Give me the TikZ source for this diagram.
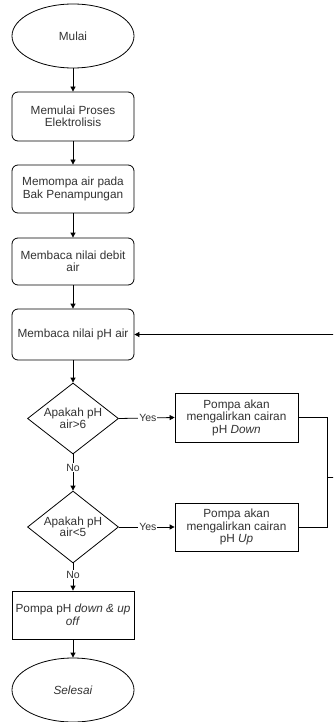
\documentclass[tikz,border=0pt]{standalone}
\usepackage{fontspec}
\setmainfont{Liberation Sans}
\usetikzlibrary{shapes.geometric,arrows.meta}
\definecolor{txt}{HTML}{333333}
\begin{document}
\begin{tikzpicture}[x=1pt,y=-1pt,
 every node/.style={font=\fontsize{11.8}{12.5}\selectfont, text=txt},
 term/.style={draw, ellipse, minimum width=122pt, minimum height=64pt, inner sep=0pt, line width=0.8pt},
 proc/.style={draw, rounded corners=6pt, minimum width=122pt, align=center, inner sep=0pt, line width=0.8pt},
 sqbox/.style={draw, minimum width=123pt, minimum height=48pt, align=center, inner sep=0pt, line width=0.8pt},
 dec/.style={draw, diamond, aspect=1.28, minimum width=91pt, minimum height=71pt, inner sep=0pt, align=center, line width=0.8pt, font=\fontsize{11.8}{11.5}\selectfont},
 lbl/.style={fill=white, inner sep=1pt, font=\fontsize{10.5}{11}\selectfont},
 arr/.style={-{Triangle[length=5pt,width=5pt]}, line width=0.8pt},
 ln/.style={line width=0.8pt}
]
\clip (0,0) rectangle (333,722);
\fill[white] (0,0) rectangle (333,722);

\node[term] (mulai) at (73,36) {Mulai};
\node[proc, minimum height=49pt] (b1) at (73,116.5) {Memulai Proses\\Elektrolisis};
\node[proc, minimum height=48pt] (b2) at (73,189) {Memompa air pada\\Bak Penampungan};
\node[proc, minimum height=47pt] (b3) at (73,261.5) {Membaca nilai debit\\air};
\node[proc, minimum height=51pt] (b4) at (73,334.5) {Membaca nilai pH air};
\node[dec] (d1) at (73,418.5) {Apakah pH\\air>6};
\node[sqbox, minimum height=49pt] (down) at (236.5,417.5) {Pompa akan\\mengalirkan cairan\\pH \textit{Down}};
\node[dec, minimum height=72pt] (d2) at (73,527) {Apakah pH\\air<5};
\node[sqbox] (up) at (236.5,527) {Pompa akan\\mengalirkan cairan\\pH \textit{Up}};
\node[sqbox, minimum width=122pt] (off) at (73,615) {Pompa pH \textit{down \& up}\\\textit{off}};
\node[term] (selesai) at (73,690) {\textit{Selesai}};

\draw[arr] (mulai) -- (b1);
\draw[arr] (b1) -- (b2);
\draw[arr] (b2) -- (b3);
\draw[arr] (b3) -- (b4);
\draw[arr] (b4) -- (d1);
\draw[arr] (d1.east) -- node[lbl, pos=0.52] {Yes} (down.west);
\draw[arr] (d1.south) -- node[lbl, pos=0.37] {No} (d2.north);
\draw[arr] (d2.east) -- node[lbl, pos=0.52] {Yes} (up.west);
\draw[arr] (d2.south) -- node[lbl, pos=0.42] {No} (off.north);
\draw[arr] (off) -- (selesai);

\coordinate (t1) at (327,417.5);
\coordinate (t2) at (327,527);
\coordinate (j) at (327,477);
\coordinate (r) at (345,477);
\draw[ln] (down.east) -- (t1) -- (t2) -- (up.east);
\draw[arr] (j) -- (r) |- (b4.east);
\end{tikzpicture}
\end{document}
